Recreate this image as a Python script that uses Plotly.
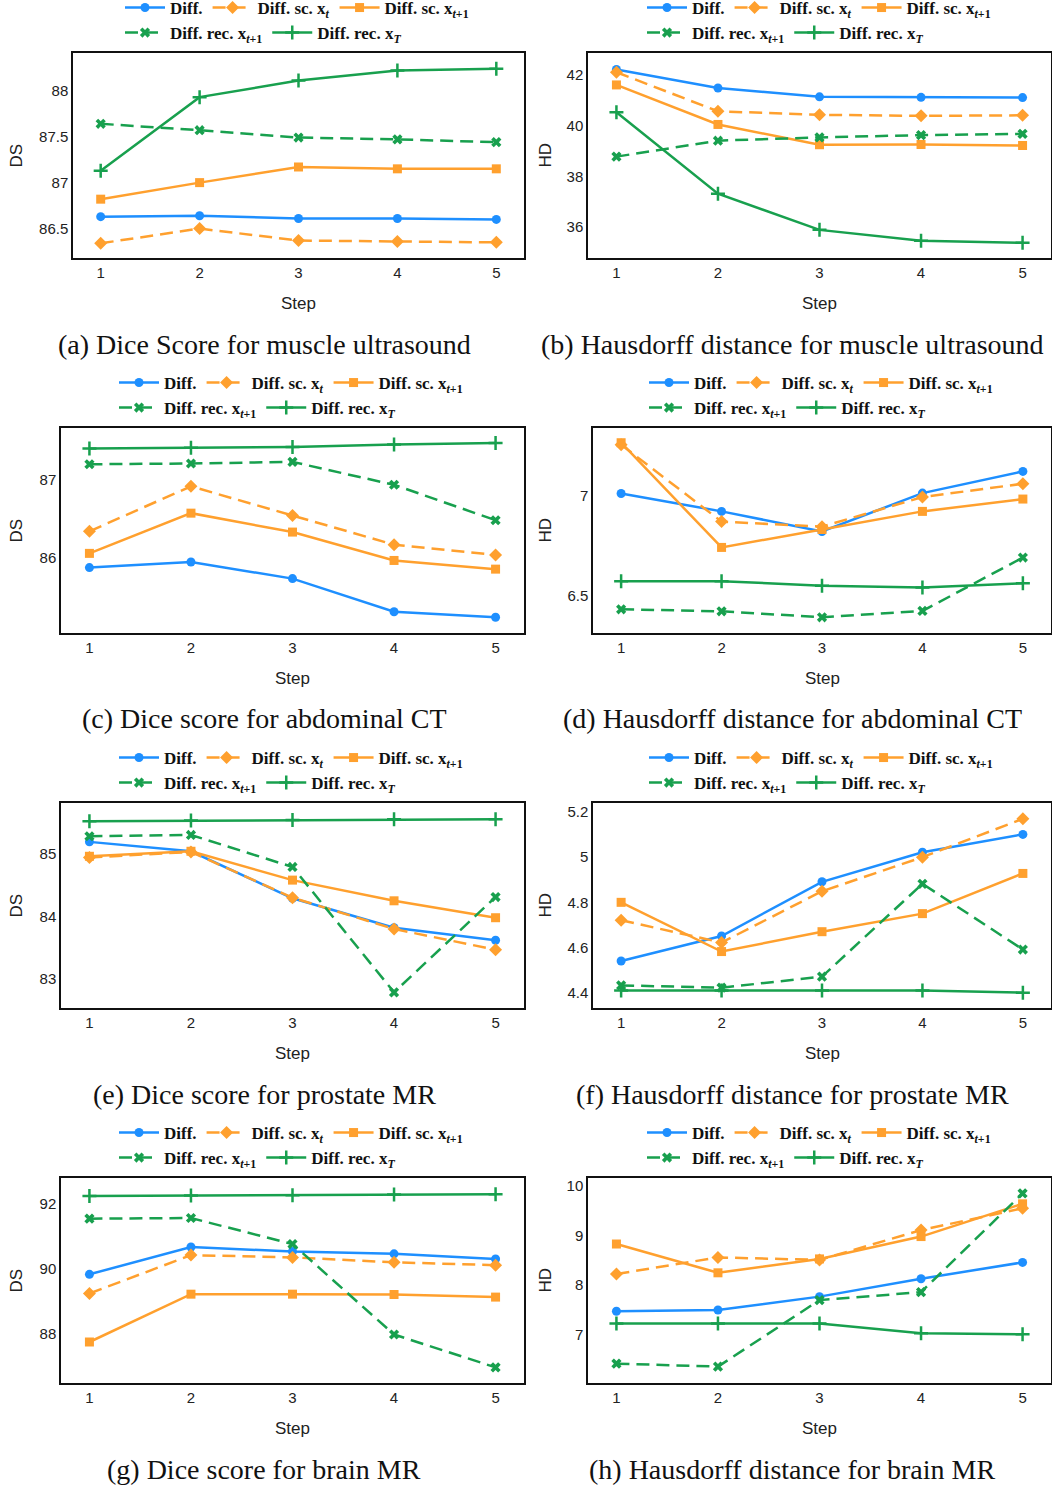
import plotly.graph_objects as go

W, H = 1052, 1487

steps = [1, 2, 3, 4, 5]
step_ticks = ["1", "2", "3", "4", "5"]

series_names = [
    "Diff.",
    "Diff. sc. x<sub><i>t</i></sub>",
    "Diff. sc. x<sub><i>t</i>+1</sub>",
    "Diff. rec. x<sub><i>t</i>+1</sub>",
    "Diff. rec. x<sub><i>T</i></sub>",
]

# (a) Dice score, muscle ultrasound
a_diff = [86.63, 86.64, 86.61, 86.61, 86.60]
a_sc_t = [86.34, 86.50, 86.37, 86.36, 86.35]
a_sc_t1 = [86.82, 87.00, 87.17, 87.15, 87.15]
a_rec_t1 = [87.64, 87.57, 87.49, 87.47, 87.44]
a_rec_T = [87.13, 87.93, 88.11, 88.22, 88.24]
# (b) Hausdorff distance, muscle ultrasound
b_diff = [42.22, 41.49, 41.14, 41.12, 41.11]
b_sc_t = [42.11, 40.57, 40.43, 40.39, 40.41]
b_sc_t1 = [41.61, 40.05, 39.25, 39.26, 39.22]
b_rec_t1 = [38.78, 39.41, 39.54, 39.63, 39.68]
b_rec_T = [40.53, 37.32, 35.89, 35.46, 35.38]
# (c) Dice score, abdominal CT
c_diff = [85.88, 85.95, 85.74, 85.32, 85.25]
c_sc_t = [86.34, 86.91, 86.54, 86.17, 86.04]
c_sc_t1 = [86.06, 86.57, 86.33, 85.97, 85.86]
c_rec_t1 = [87.19, 87.20, 87.22, 86.93, 86.48]
c_rec_T = [87.39, 87.40, 87.41, 87.44, 87.46]
# (d) Hausdorff distance, abdominal CT
d_diff = [7.013, 6.923, 6.822, 7.015, 7.124]
d_sc_t = [7.258, 6.872, 6.846, 6.995, 7.062]
d_sc_t1 = [7.268, 6.742, 6.832, 6.923, 6.985]
d_rec_t1 = [6.431, 6.421, 6.391, 6.423, 6.691]
d_rec_T = [6.572, 6.572, 6.550, 6.540, 6.562]
# (e) Dice score, prostate MR
e_diff = [85.19, 85.04, 84.29, 83.82, 83.62]
e_sc_t = [84.94, 85.03, 84.30, 83.80, 83.47]
e_sc_t1 = [84.96, 85.04, 84.58, 84.25, 83.98]
e_rec_t1 = [85.28, 85.30, 84.79, 82.79, 84.31]
e_rec_T = [85.52, 85.53, 85.54, 85.55, 85.55]
# (f) Hausdorff distance, prostate MR
f_diff = [4.540, 4.651, 4.891, 5.022, 5.101]
f_sc_t = [4.721, 4.622, 4.849, 5.000, 5.170]
f_sc_t1 = [4.800, 4.582, 4.670, 4.750, 4.928]
f_rec_t1 = [4.432, 4.422, 4.471, 4.882, 4.591]
f_rec_T = [4.410, 4.410, 4.409, 4.409, 4.400]
# (g) Dice score, brain MR
g_diff = [89.83, 90.67, 90.53, 90.46, 90.30]
g_sc_t = [89.24, 90.42, 90.35, 90.20, 90.11]
g_sc_t1 = [87.75, 89.22, 89.22, 89.21, 89.13]
g_rec_t1 = [91.54, 91.56, 90.76, 87.98, 86.97]
g_rec_T = [92.24, 92.25, 92.26, 92.28, 92.29]
# (h) Hausdorff distance, brain MR
h_diff = [7.475, 7.50, 7.77, 8.13, 8.46]
h_sc_t = [8.225, 8.56, 8.51, 9.11, 9.55]
h_sc_t1 = [8.83, 8.25, 8.53, 8.98, 9.64]
h_rec_t1 = [6.42, 6.36, 7.70, 7.86, 9.85]
h_rec_T = [7.23, 7.23, 7.23, 7.03, 7.01]

a_yticks = [86.5, 87, 87.5, 88]
a_ytext = ["86.5", "87", "87.5", "88"]
b_yticks = [36, 38, 40, 42]
b_ytext = ["36", "38", "40", "42"]
c_yticks = [86, 87]
c_ytext = ["86", "87"]
d_yticks = [6.5, 7]
d_ytext = ["6.5", "7"]
e_yticks = [83, 84, 85]
e_ytext = ["83", "84", "85"]
f_yticks = [4.4, 4.6, 4.8, 5, 5.2]
f_ytext = ["4.4", "4.6", "4.8", "5", "5.2"]
g_yticks = [88, 90, 92]
g_ytext = ["88", "90", "92"]
h_yticks = [7, 8, 9, 10]
h_ytext = ["7", "8", "9", "10"]

captions = [
    "(a) Dice Score for muscle ultrasound",
    "(b) Hausdorff distance for muscle ultrasound",
    "(c) Dice score for abdominal CT",
    "(d) Hausdorff distance for abdominal CT",
    "(e) Dice score for prostate MR",
    "(f) Hausdorff distance for prostate MR",
    "(g) Dice score for brain MR",
    "(h) Hausdorff distance for brain MR",
]
y_titles = ["DS", "HD", "DS", "HD", "DS", "HD", "DS", "HD"]
x_title = "Step"

panels = [
    ([a_diff, a_sc_t, a_sc_t1, a_rec_t1, a_rec_T], a_yticks, a_ytext),
    ([b_diff, b_sc_t, b_sc_t1, b_rec_t1, b_rec_T], b_yticks, b_ytext),
    ([c_diff, c_sc_t, c_sc_t1, c_rec_t1, c_rec_T], c_yticks, c_ytext),
    ([d_diff, d_sc_t, d_sc_t1, d_rec_t1, d_rec_T], d_yticks, d_ytext),
    ([e_diff, e_sc_t, e_sc_t1, e_rec_t1, e_rec_T], e_yticks, e_ytext),
    ([f_diff, f_sc_t, f_sc_t1, f_rec_t1, f_rec_T], f_yticks, f_ytext),
    ([g_diff, g_sc_t, g_sc_t1, g_rec_t1, g_rec_T], g_yticks, g_ytext),
    ([h_diff, h_sc_t, h_sc_t1, h_rec_t1, h_rec_T], h_yticks, h_ytext),
]

# ---- layout / style (pixels) ----
y_ranges = [
    [86.18, 88.41], [34.78, 42.87], [85.05, 87.65], [6.312, 7.342],
    [82.54, 85.81], [4.332, 5.24], [86.49, 92.79], [6.03, 10.16],
]
box_x = [(73, 524), (588, 1051), (61, 524), (593, 1051),
         (61, 524), (593, 1051), (61, 524), (588, 1051)]
box_top0, box_h, row_step = 53, 205, 375
legend_left = [125, 647, 119, 649, 119, 649, 119, 647]
ytitle_x = [16, 545]
caption_cx = [264, 792]

BLUE = "#1E8FFF"
ORANGE = "#FFA02E"
GREEN = "#18A04E"
DASH = "13px,7px"
styles = [
    dict(color=BLUE, dash="solid", symbol="circle", size=9),
    dict(color=ORANGE, dash=DASH, symbol="diamond", size=10),
    dict(color=ORANGE, dash="solid", symbol="square", size=9),
    dict(color=GREEN, dash=DASH, symbol="x", size=9),
    dict(color=GREEN, dash="solid", symbol="cross-thin", size=10),
]


def px_x(x):
    return x / W


def px_y(y):
    return 1 - y / H


fig = go.Figure()
annotations = []
layout = dict(
    width=W, height=H,
    margin=dict(l=0, r=0, t=0, b=0, pad=0, autoexpand=False),
    paper_bgcolor="white", plot_bgcolor="white",
    font=dict(family="Liberation Sans", color="#222"),
)

for i, (series, yt, ytext) in enumerate(panels):
    col = i % 2
    row = i // 2
    top = box_top0 + row * row_step
    bot = top + box_h
    xl, xr = box_x[i]
    n = i + 1
    xa = "x" if n == 1 else f"x{n}"
    ya = "y" if n == 1 else f"y{n}"
    leg1 = "legend" if i == 0 else f"legend{2 * i + 1}"
    leg2 = f"legend{2 * i + 2}"
    for k, vals in enumerate(series):
        st = styles[k]
        mk = dict(symbol=st["symbol"], size=st["size"], color=st["color"])
        if st["symbol"] == "cross-thin":
            mk["line"] = dict(color=st["color"], width=2.5)
        fig.add_trace(go.Scatter(
            x=steps, y=vals, mode="lines+markers", name=series_names[k],
            line=dict(color=st["color"], width=2.5, dash=st["dash"]),
            marker=mk, xaxis=xa, yaxis=ya,
            legend=leg1 if k < 3 else leg2, showlegend=True,
        ))
    xkey = "xaxis" if n == 1 else f"xaxis{n}"
    ykey = "yaxis" if n == 1 else f"yaxis{n}"
    layout[xkey] = dict(
        domain=[px_x(xl), px_x(xr)], anchor=ya, range=[0.72, 5.28],
        tickvals=steps, ticktext=step_ticks, showgrid=False, zeroline=False,
        showline=True, mirror=True, linecolor="#111", linewidth=1.5,
        ticks="", tickfont=dict(size=15, family="Liberation Sans", color="#222"),
    )
    layout[ykey] = dict(
        domain=[px_y(bot), px_y(top)], anchor=xa, range=y_ranges[i],
        tickvals=yt, ticktext=ytext, showgrid=False, zeroline=False,
        showline=True, mirror=True, linecolor="#111", linewidth=1.5,
        ticks="", tickfont=dict(size=15, family="Liberation Sans", color="#222"),
    )
    legfont = dict(family="Liberation Serif", size=17, color="#111", weight="bold")
    for lk, ly in [(leg1, top - 45), (leg2, top - 20)]:
        layout[lk] = dict(
            orientation="h", x=px_x(legend_left[i] - 5), xanchor="left",
            y=px_y(ly), yanchor="middle", bgcolor="rgba(0,0,0,0)",
            borderwidth=0, font=legfont, itemwidth=40,
            itemclick=False, itemdoubleclick=False, tracegroupgap=0,
        )
    annotations.append(dict(
        text=x_title, xref="paper", yref="paper",
        x=px_x((xl + xr) / 2), y=px_y(bot + 45),
        xanchor="center", yanchor="middle", showarrow=False,
        font=dict(size=17, family="Liberation Sans", color="#222"),
    ))
    annotations.append(dict(
        text=y_titles[i], xref="paper", yref="paper", textangle=-90,
        x=px_x(ytitle_x[col]), y=px_y((top + bot) / 2), xanchor="center",
        yanchor="middle", showarrow=False,
        font=dict(size=17, family="Liberation Sans", color="#222"),
    ))
    annotations.append(dict(
        text=captions[i], xref="paper", yref="paper",
        x=px_x(caption_cx[col]), y=px_y(bot + 86), xanchor="center",
        yanchor="middle", showarrow=False,
        font=dict(size=28, family="Liberation Serif", color="#111"),
    ))

layout["annotations"] = annotations
fig.update_layout(**layout)
fig.write_html("out.html")
